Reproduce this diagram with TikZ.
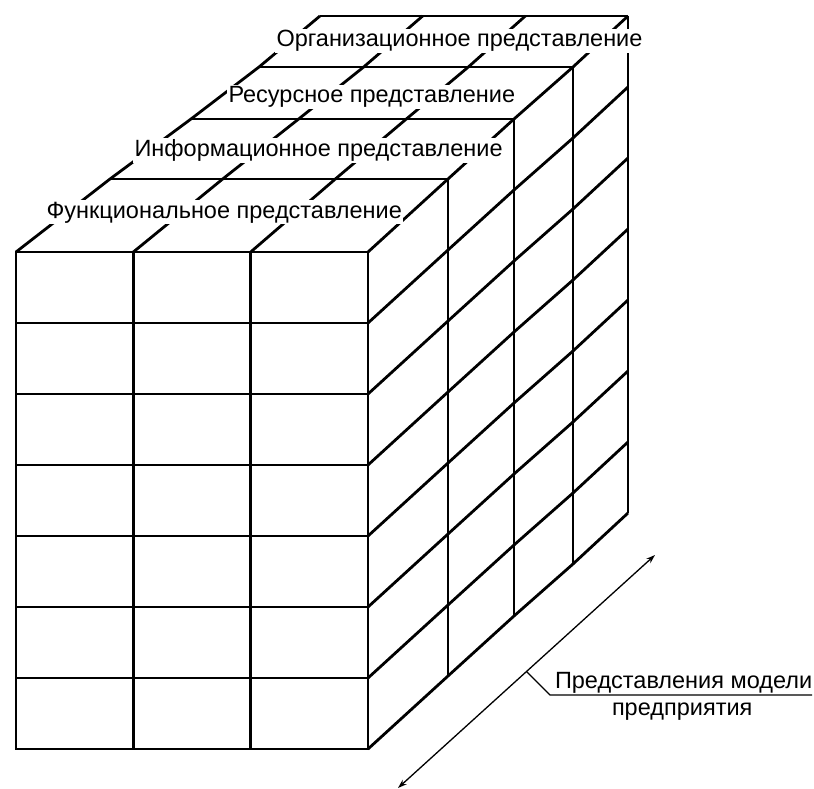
\documentclass[tikz,border=0pt]{standalone}
\usepackage{fontspec}
\setmainfont{Liberation Sans}
\usetikzlibrary{calc,arrows.meta}
\begin{document}
\begin{tikzpicture}[x=1pt,y=-1pt,
  cube/.style={line width=2.8pt,line join=miter,line cap=butt},
  thinline/.style={line width=1.3pt},
  lbl/.style={font=\fontsize{23.5}{28}\selectfont,fill=white,inner sep=1.5pt,outer sep=0pt},
  lblb/.style={font=\fontsize{23.5}{28}\selectfont,inner sep=0pt,outer sep=0pt}]
\useasboundingbox (0,0) rectangle (814,789);
% layer corners (top-left / top-right)
\coordinate (L0) at (16,252);  \coordinate (R0) at (368,252);
\coordinate (L1) at (110,179); \coordinate (R1) at (448,179);
\coordinate (L2) at (191,119); \coordinate (R2) at (514,119);
\coordinate (L3) at (259,67);  \coordinate (R3) at (573,67);
\coordinate (L4) at (320,16);  \coordinate (R4) at (628,16);
% front face
\draw[cube] (L0) rectangle ($(R0)+(0,497)$);
\foreach \c in {1,2}
  \draw[cube] ($(L0)!\c/3!(R0)$) -- ++(0,497);
\foreach \j in {1,...,6}
  \draw[cube] ($(L0)+(0,71*\j)$) -- ($(R0)+(0,71*\j)$);
% top face
\draw[cube] (L0) -- (L1) -- (L2) -- (L3) -- (L4);
\draw[cube] (R0) -- (R1) -- (R2) -- (R3) -- (R4);
\foreach \c in {1,2}
  \draw[cube] ($(L0)!\c/3!(R0)$) -- ($(L1)!\c/3!(R1)$) -- ($(L2)!\c/3!(R2)$)
              -- ($(L3)!\c/3!(R3)$) -- ($(L4)!\c/3!(R4)$);
\foreach \k in {1,...,4}
  \draw[cube] (L\k) -- (R\k);
% right face
\foreach \k in {1,...,4}
  \draw[cube] (R\k) -- ++(0,497);
\foreach \j in {1,...,7}
  \draw[cube] ($(R0)+(0,71*\j)$) -- ($(R1)+(0,71*\j)$) -- ($(R2)+(0,71*\j)$)
              -- ($(R3)+(0,71*\j)$) -- ($(R4)+(0,71*\j)$);
% labels on top
\node[lbl,anchor=base west] (fun) at (45,218) {Функциональное представление};
\node[lbl,anchor=base west] (inf) at (133,157) {Информационное представление};
\node[lbl,anchor=base west] (res) at (227,103) {Ресурсное представление};
\node[lbl,anchor=base west] (org) at (275,47) {Организационное представление};
% axis arrow
\coordinate (a1) at (398,788);
\coordinate (a2) at (655,555);
\draw[thinline,{Stealth[length=9pt,width=6pt]}-{Stealth[length=9pt,width=6pt]}]
  (a1) -- (a2) coordinate[pos=0.5] (kk);
\coordinate (u1) at (550,695);
\coordinate (u2) at (812,695);
\draw[thinline] (kk) -- (u1) -- (u2);
\node[lblb,anchor=base west] (pm) at (555,688) {Представления модели};
\node[lblb,anchor=base west] (pp) at (612,715) {предприятия};
\end{tikzpicture}
\end{document}
